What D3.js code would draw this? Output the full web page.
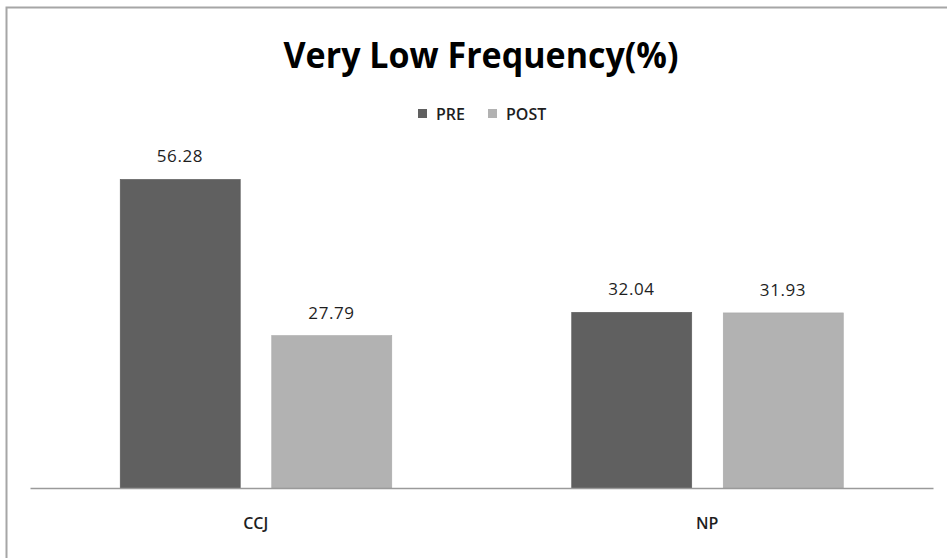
<!DOCTYPE html>
<html>
<head>
<meta charset="utf-8">
<script src="https://cdn.jsdelivr.net/npm/d3@7"></script>
<style>
  html, body { margin: 0; padding: 0; background: #fff; }
  svg { display: block; }
</style>
</head>
<body>
<svg id="chart" width="947" height="558"></svg>
<script>
const categories = ["CCJ", "NP"];
const seriesNames = ["PRE", "POST"];
const preValues = [56.28, 32.04];
const postValues = [27.79, 31.93];
const seriesColors = ["#606060", "#b2b2b2"];
const titleText = "Very Low Frequency(%)";
const yDomain = [0, 60];

const W = 947, H = 558;
const svg = d3.select("#chart");
const FONT = "'Open Sans', 'Liberation Sans', sans-serif";

// outer frame
svg.append("rect")
  .attr("x", 6.5).attr("y", 7.5)
  .attr("width", W + 20).attr("height", H + 20)
  .attr("fill", "#fff")
  .attr("stroke", "#a6a6a6").attr("stroke-width", 2);

const x0 = d3.scaleBand().domain(categories).range([30, 933]).paddingInner(0).paddingOuter(0);
const x1 = d3.scaleBand().domain(seriesNames).range([0, x0.bandwidth()])
  .paddingInner(0.2046).paddingOuter(0.592);
const y = d3.scaleLinear().domain(yDomain).range([488, 159]);
const color = d3.scaleOrdinal().domain(seriesNames).range(seriesColors);

const rows = categories.map((c, i) => ({ cat: c, vals: [
  { s: "PRE", v: preValues[i] }, { s: "POST", v: postValues[i] }
]}));

const groups = svg.selectAll("g.grp").data(rows).join("g")
  .attr("class", "grp")
  .attr("transform", d => `translate(${x0(d.cat)},0)`);

groups.selectAll("rect").data(d => d.vals).join("rect")
  .attr("x", d => x1(d.s) + 0.5)
  .attr("y", d => y(d.v))
  .attr("width", x1.bandwidth() - 0.5)
  .attr("height", d => y(0) - y(d.v))
  .attr("fill", d => color(d.s))
  .attr("stroke", d => d3.color(color(d.s)).darker(0.15))
  .attr("stroke-width", 0.6);

groups.selectAll("text.lbl").data(d => d.vals).join("text")
  .attr("class", "lbl")
  .attr("x", d => x1(d.s) + x1.bandwidth() / 2)
  .attr("y", d => y(d.v) - 17)
  .attr("text-anchor", "middle")
  .attr("font-family", FONT)
  .attr("font-size", 17)
  .attr("font-weight", 500)
  .attr("letter-spacing", 0.6)
  .attr("fill", "#1e1e1e")
  .text(d => d.v.toFixed(2));

// x axis
const xAxis = svg.append("g")
  .attr("transform", `translate(0,488)`)
  .call(d3.axisBottom(x0).tickSize(0).tickSizeOuter(0).tickPadding(30));
xAxis.select(".domain").attr("stroke", "#9a9a9a").attr("stroke-width", 1.5);
xAxis.selectAll("text")
  .attr("font-family", FONT)
  .attr("font-size", 16)
  .attr("font-weight", 600)
  .attr("fill", "#1e1e1e");

// title
const title = svg.append("text")
  .attr("x", 481).attr("y", 68)
  .attr("text-anchor", "middle")
  .attr("font-family", FONT)
  .attr("font-weight", "bold")
  .attr("font-size", 35)
  .attr("fill", "#000")
  .text(titleText);
title.attr("textLength", 395).attr("lengthAdjust", "spacingAndGlyphs");

// legend
const legendX = [418, 488];
const leg = svg.append("g");
seriesNames.forEach((s, i) => {
  leg.append("rect")
    .attr("x", legendX[i]).attr("y", 109)
    .attr("width", 9).attr("height", 9)
    .attr("fill", color(s));
  leg.append("text")
    .attr("x", legendX[i] + 18).attr("y", 119.5)
    .attr("font-family", FONT)
    .attr("font-size", 16)
    .attr("font-weight", 600)
    .attr("fill", "#1e1e1e")
    .text(s);
});
</script>
</body>
</html>
